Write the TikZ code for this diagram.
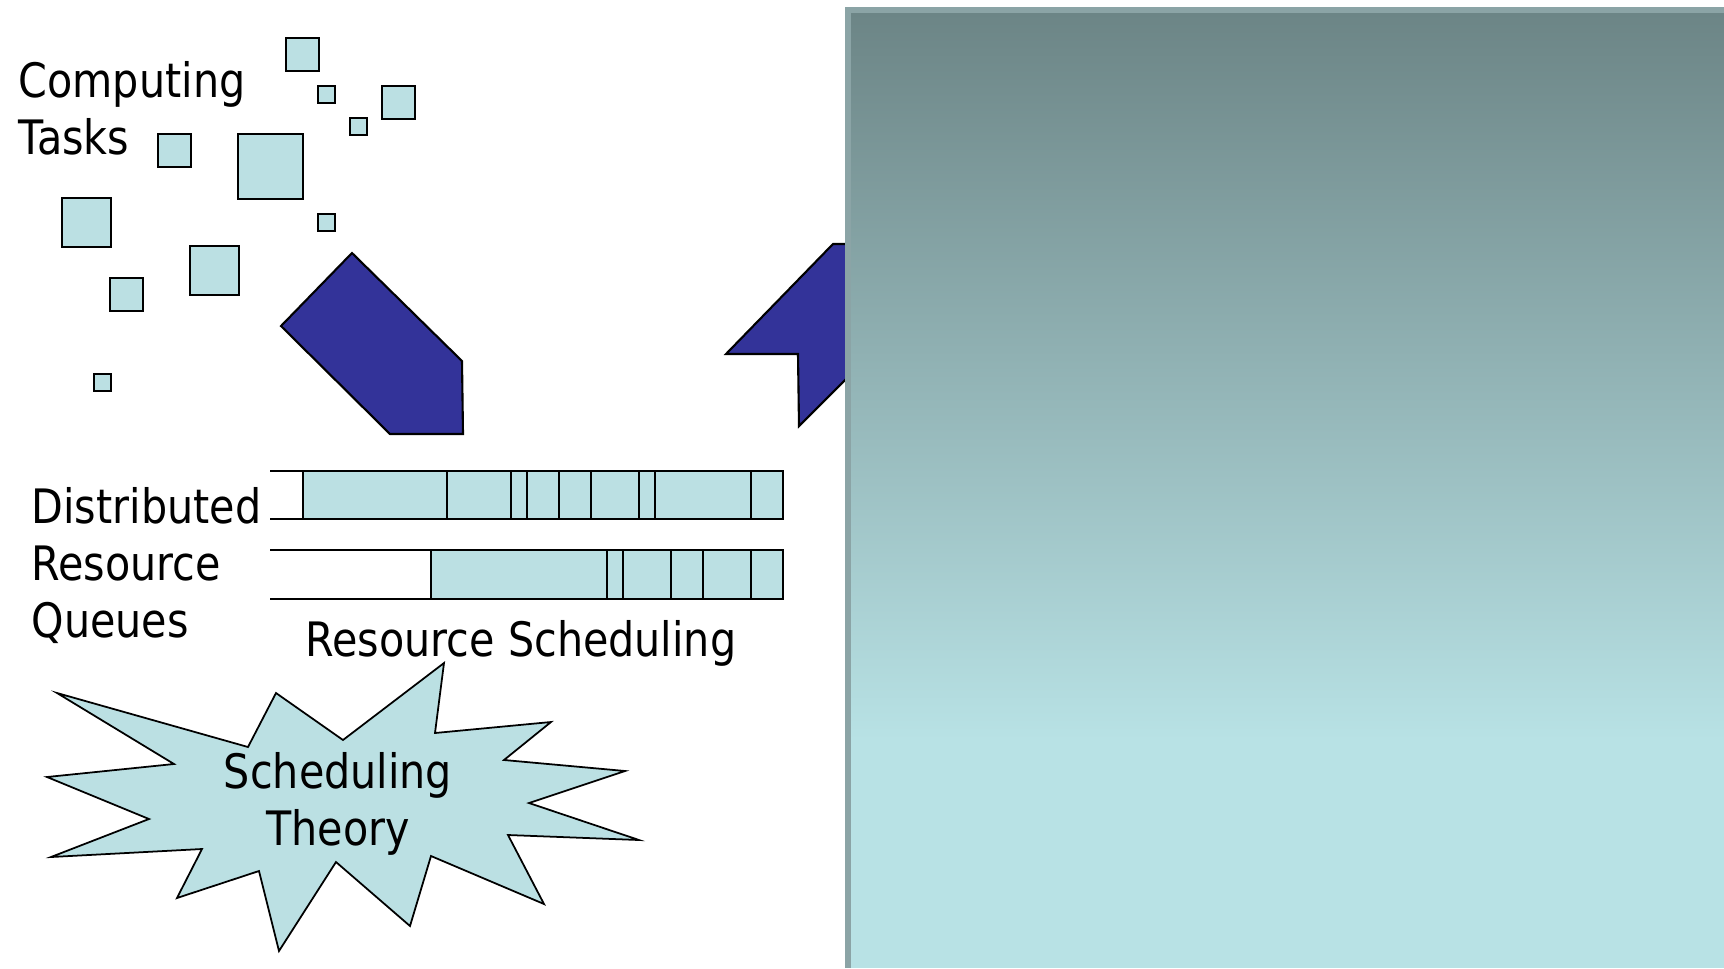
\documentclass[tikz,border=0pt]{standalone}
\usepackage{fontspec}
\setmainfont{DejaVu Sans}[FakeStretch=0.87]
\usepackage{tikz}

\definecolor{taskfill}{RGB}{187,224,227}
\definecolor{arrowblue}{RGB}{51,51,153}
\definecolor{panelrim}{RGB}{139,164,166}
\definecolor{paneltop}{RGB}{108,133,134}
\definecolor{panelbot}{RGB}{184,226,229}

\begin{document}
\begin{tikzpicture}[x=0.1mm, y=0.1mm,
    task/.style={draw=black, fill=taskfill, line width=0.5pt},
    pointer/.style={draw=black, fill=arrowblue, line width=0.6pt},
    lbl/.style={font=\fontsize{13.5pt}{16.2pt}\selectfont, inner sep=0pt}]
    \useasboundingbox (0,0) rectangle (1724,-968);

    % incoming tasks
    \draw [task] (286,-38) rectangle (319,-71);
    \draw [task] (318,-86) rectangle (335,-103);
    \draw [task] (382,-86) rectangle (415,-119);
    \draw [task] (350,-118) rectangle (367,-135);
    \draw [task] (158,-134) rectangle (191,-167);
    \draw [task] (238,-134) rectangle (303,-199);
    \draw [task] (318,-214) rectangle (335,-231);
    \draw [task] (62,-198) rectangle (111,-247);
    \draw [task] (190,-246) rectangle (239,-295);
    \draw [task] (110,-278) rectangle (143,-311);
    \draw [task] (94,-374) rectangle (111,-391);
    % (base sits on the last line)
    \node [lbl, align=left, anchor=base west] (tasks) at (18,-154) {Computing\\Tasks};

    % arrows into and out of the queues
    \draw [pointer] (352,-253) -- (281,-326) -- (390,-434) -- (463,-434) -- (462,-361) -- cycle;
    \draw [pointer] (833,-244) -- (900,-244) -- (900,-325) -- (799,-426) -- (798,-354) -- (726,-354) -- cycle;

    % two resource queues
    \draw [line width=0.6pt] (270,-471) -- (783,-471);
    \draw [line width=0.6pt] (270,-519) -- (783,-519);
    \draw [task, line width=0.6pt] (303,-471) rectangle (783,-519);
    \foreach \x in {447,511,527,559,591,639,655,751}
        \draw [line width=0.6pt] (\x,-471) -- (\x,-519);
    \draw [line width=0.6pt] (270,-550) -- (783,-550);
    \draw [line width=0.6pt] (270,-599) -- (783,-599);
    \draw [task, line width=0.6pt] (431,-550) rectangle (783,-599);
    \foreach \x in {607,623,671,703,751}
        \draw [line width=0.6pt] (\x,-550) -- (\x,-599);
    \node [lbl, align=left, anchor=base west] (queues) at (31,-637) {Distributed\\Resource\\Queues};
    \node [lbl, anchor=base west] (sched) at (305,-656) {Resource Scheduling};

    % theory burst
    \draw [task] (57,-693) -- (248,-747) -- (276,-693) -- (343,-740) -- (444,-663)
        -- (435,-733) -- (551,-722) -- (504,-760) -- (625,-771) -- (529,-803)
        -- (639,-840) -- (508,-835) -- (544,-904) -- (431,-856) -- (410,-926)
        -- (336,-862) -- (279,-951) -- (259,-871) -- (177,-898) -- (202,-849)
        -- (51,-857) -- (149,-819) -- (47,-777) -- (174,-764) -- cycle;
    \node [lbl, align=center, anchor=base] (theory) at (338,-845) {Scheduling\\Theory};

    % side panel
    \fill [panelrim] (845,-7) rectangle (1724,-968);
    \fill [panelbot] (851,-13) rectangle (1724,-968);
    \shade [top color=paneltop, bottom color=panelbot] (851,-13) rectangle (1724,-740);
\end{tikzpicture}
\end{document}
